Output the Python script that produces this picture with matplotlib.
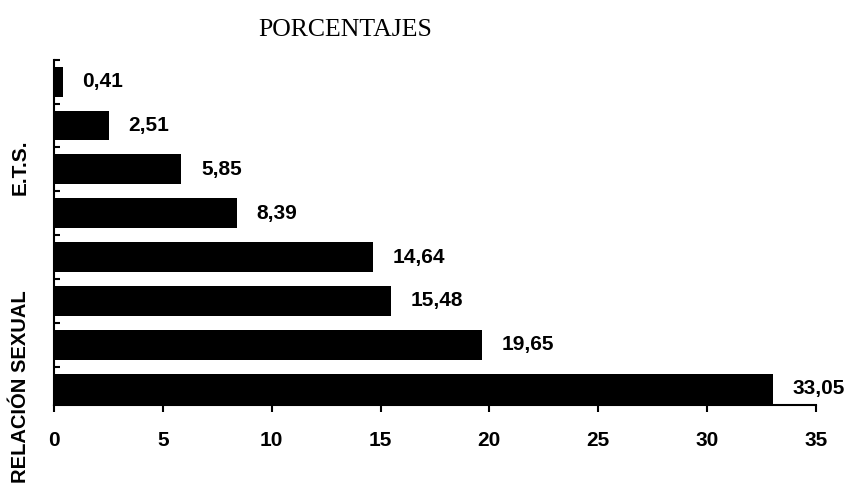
import matplotlib
matplotlib.use("Agg")
import matplotlib.pyplot as plt

values = [33.05, 19.65, 15.48, 14.64, 8.39, 5.85, 2.51, 0.41]
value_labels = ["33,05", "19,65", "15,48", "14,64", "8,39", "5,85", "2,51", "0,41"]
xticks = [0, 5, 10, 15, 20, 25, 30, 35]
title = "PORCENTAJES"
group_labels = ["E.T.S.", "RELACIÓN SEXUAL"]

fig = plt.figure(figsize=(8.47, 4.86), dpi=100)
ax = fig.add_axes([0.064, 0.167, 0.899, 0.71])

pos = list(range(len(values)))
ax.barh(pos, values, height=0.68, color="black")
for p, v, lab in zip(pos, values, value_labels):
    ax.annotate(lab, (v, p), xytext=(14, 0), textcoords="offset points",
                va="center", ha="left", fontsize=15, fontweight="bold",
                family="Liberation Sans")

ax.set_xlim(0, 35)
ax.set_ylim(-0.37, 7.5)
ax.set_xticks(xticks)
ax.set_xticklabels([str(t) for t in xticks], fontsize=15, fontweight="bold",
                   family="Liberation Sans")
ax.set_yticks([p + 0.5 for p in pos])
ax.set_yticklabels([])
ax.tick_params(axis="y", direction="in", length=4, width=1.5)
ax.tick_params(axis="x", direction="out", length=5, width=1.5, pad=14)
for s in ["top", "right"]:
    ax.spines[s].set_visible(False)
ax.spines["left"].set_linewidth(1.5)
ax.spines["bottom"].set_linewidth(1.5)

fig.text(0.408, 0.938, title, ha="center", va="center", fontsize=18.5,
         family="Liberation Serif")
fig.text(0.024, 0.655, group_labels[0], rotation=90, ha="center", va="center",
         fontsize=15, fontweight="bold", family="Liberation Sans")
fig.text(0.024, 0.006, group_labels[1], rotation=90, ha="center", va="bottom",
         fontsize=14.5, fontweight="bold", family="Liberation Sans")

fig.savefig("out.png", dpi=100)
